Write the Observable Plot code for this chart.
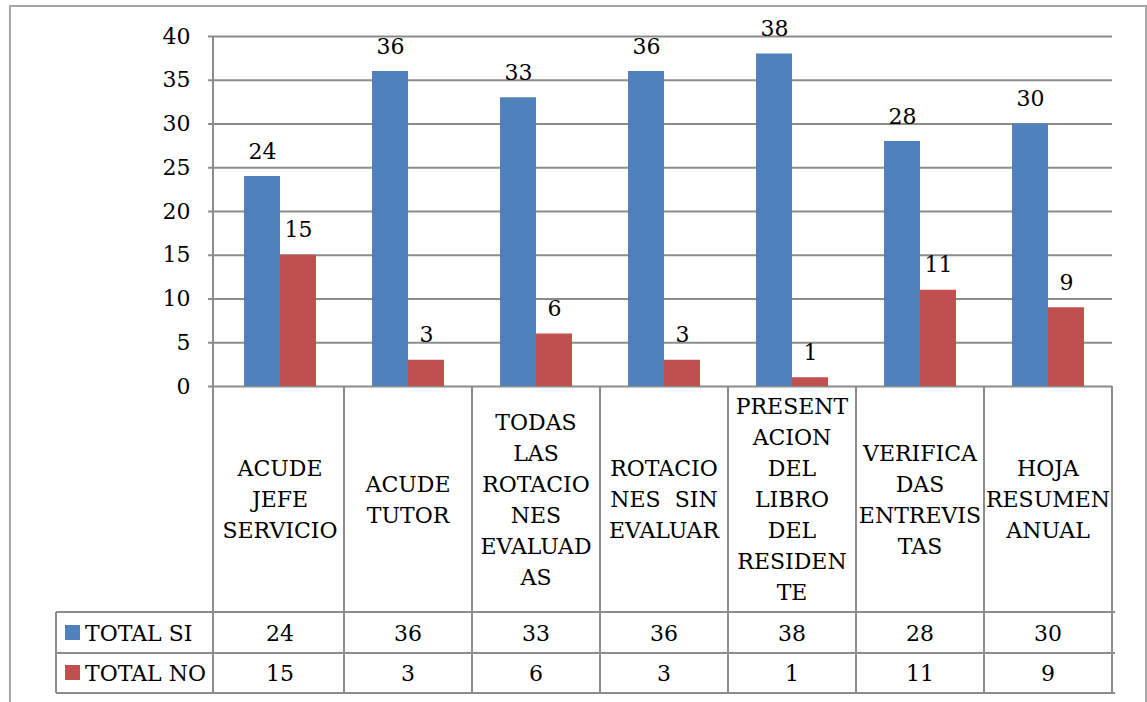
<!DOCTYPE html>
<html>
<head>
<meta charset="utf-8">
<script src="https://cdn.jsdelivr.net/npm/d3@7"></script>
<script src="https://cdn.jsdelivr.net/npm/@observablehq/plot@0.6"></script>
<style>
  html, body { margin: 0; padding: 0; background: #fff; }
  #wrap { position: relative; width: 1147px; height: 702px; overflow: hidden; }
  #border { position: absolute; left: 9px; top: 5px; width: 1134px; height: 740px; border: 2px solid #a6a6a6; }
  #chart { position: absolute; left: 0; top: 0; }
  #table { position: absolute; left: 0; top: 0; pointer-events: none; }
</style>
</head>
<body>
<div id="wrap"><div id="border"></div><div id="chart"></div><svg id="table" width="1147" height="702"></svg></div>
<script>
const categories = [
  "ACUDE JEFE SERVICIO",
  "ACUDE TUTOR",
  "TODAS LAS ROTACIONES EVALUADAS",
  "ROTACIONES SIN EVALUAR",
  "PRESENTACION DEL LIBRO DEL RESIDENTE",
  "VERIFICADAS ENTREVISTAS",
  "HOJA RESUMEN ANUAL"
];
const categoryLines = [
  ["ACUDE", "JEFE", "SERVICIO"],
  ["ACUDE", "TUTOR"],
  ["TODAS", "LAS", "ROTACIO", "NES", "EVALUAD", "AS"],
  ["ROTACIO", "NES  SIN", "EVALUAR"],
  ["PRESENT", "ACION", "DEL", "LIBRO", "DEL", "RESIDEN", "TE"],
  ["VERIFICA", "DAS", "ENTREVIS", "TAS"],
  ["HOJA", "RESUMEN", "ANUAL"]
];
const series = ["TOTAL SI", "TOTAL NO"];
const totalSi = [24, 36, 33, 36, 38, 28, 30];
const totalNo = [15, 3, 6, 3, 1, 11, 9];
const colors = ["#4F81BD", "#C0504D"];
const yTicks = [0, 5, 10, 15, 20, 25, 30, 35, 40];

const data = [];
categories.forEach((c, i) => {
  data.push({cat: c, series: series[0], value: totalSi[i]});
  data.push({cat: c, series: series[1], value: totalNo[i]});
});

const gridColor = "#8c8c8c";
const fontStack = "DejaVu Serif";
const fs = 22;

const plot = Plot.plot({
  width: 1147,
  height: 390,
  marginLeft: 213,
  marginRight: 32,
  marginTop: 36,
  marginBottom: 4,
  style: {fontFamily: fontStack, fontSize: fs + "px", color: "black", overflow: "visible", background: "transparent"},
  fx: {domain: categories, padding: 0, axis: null},
  x: {domain: series, paddingInner: 0, paddingOuter: 0.74, axis: null},
  y: {domain: [0, 40], axis: null},
  color: {domain: series, range: colors},
  marks: [
    Plot.ruleY(yTicks, {stroke: gridColor, strokeWidth: 2}),
    Plot.axisY({ticks: yTicks, tickSize: 8, tickPadding: 18, stroke: gridColor, strokeWidth: 2, label: null, tickFormat: d => String(d), fontFamily: fontStack, fontSize: fs}),
    Plot.barY(data, {fx: "cat", x: "series", y: "value", fill: "series"}),
    Plot.text(data, {fx: "cat", x: "series", y: "value", text: d => String(d.value), dy: -18, lineAnchor: "bottom", fill: "black", fontSize: fs, fontFamily: fontStack})
  ]
});
document.getElementById("chart").appendChild(plot);

// Data table below the chart, aligned with the plot's own scales
const fx = plot.scale("fx");
const ys = plot.scale("y");
const left = fx.range[0], right = fx.range[1];
const bw = fx.bandwidth;
const yBase = ys.apply(0), yTop = ys.apply(40);
const rowLabelBottom = 612, row1Bottom = 653, row2Bottom = 693, legendLeft = 56;

const svg = d3.select("#table");
const line = (x1, y1, x2, y2) => svg.append("line").attr("x1", x1).attr("y1", y1).attr("x2", x2).attr("y2", y2)
  .attr("stroke", gridColor).attr("stroke-width", 2);

line(left, yTop, left, row2Bottom);
categories.forEach(c => {
  const x0 = fx.apply(c);
  line(x0 + bw, yBase, x0 + bw, row2Bottom);
});
line(legendLeft, rowLabelBottom, right, rowLabelBottom);
line(legendLeft, row1Bottom, right, row1Bottom);
line(legendLeft, row2Bottom, right, row2Bottom);
line(legendLeft, rowLabelBottom, legendLeft, row2Bottom);

const txt = (x, y, s, anchor) => svg.append("text").attr("x", x).attr("y", y).attr("text-anchor", anchor || "middle")
  .attr("font-family", fontStack).attr("font-size", fs).attr("fill", "black").attr("xml:space", "preserve").text(s);

const labelCenter = (yBase + rowLabelBottom) / 2;
const lh = 31;
categories.forEach((c, i) => {
  const cx = fx.apply(c) + bw / 2;
  const lines = categoryLines[i];
  const first = labelCenter - (lines.length - 1) / 2 * lh + 8;
  lines.forEach((l, k) => txt(cx, first + k * lh, l));
  txt(cx, row1Bottom - 12, String(totalSi[i]));
  txt(cx, row2Bottom - 12, String(totalNo[i]));
});
// legend keys in the table
[[rowLabelBottom, row1Bottom], [row1Bottom, row2Bottom]].forEach(([t, b], j) => {
  svg.append("rect").attr("x", legendLeft + 9).attr("y", b - 28).attr("width", 15).attr("height", 15).attr("fill", colors[j]);
  txt(legendLeft + 29, b - 12, series[j], "start");
});
</script>
</body>
</html>
